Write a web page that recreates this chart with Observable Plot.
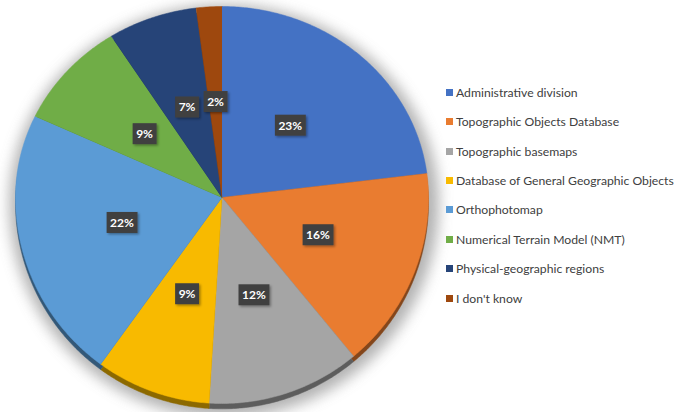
<!DOCTYPE html>
<html><head><meta charset="utf-8">
<script src="https://cdn.jsdelivr.net/npm/d3@7"></script>
<script src="https://cdn.jsdelivr.net/npm/@observablehq/plot@0.6"></script>
<style>
body{margin:0;background:#fff;}
#wrap{position:relative;width:677px;height:412px;overflow:hidden;}
#legend{position:absolute;left:446px;top:77.5px;font-family:Lato,"Noto Sans",sans-serif;font-size:12.2px;color:#404040;}
.row{height:29.43px;display:flex;align-items:center;white-space:nowrap;}
.sw{width:7px;height:7px;margin-right:3px;flex:none;}
</style></head>
<body><div id="wrap"><div id="chart"></div><div id="legend"></div></div>
<script>
const categories = ["Administrative division","Topographic Objects Database","Topographic basemaps","Database of General Geographic Objects","Orthophotomap","Numerical Terrain Model (NMT)","Physical-geographic regions","I don't know"];
const values = [23,16,12,9,22,9,7,2];
const colors = ["#4472C4","#E97C30","#A5A5A5","#F8BA00","#5B9BD5","#70AD47","#264478","#9E480E"];
const labels = values.map(v => v + "%");

const K = 206/191;
function pt(a, r){ const c = Math.cos(a); return {x: r*Math.sin(a), y: r*c*(c >= 0 ? 1 : K)}; }
const arcs = d3.pie().sort(null).value(d => d)(values);

function slicePoints(dy){
  const out = [];
  arcs.forEach((p, i) => {
    const c0 = pt(0, 0); out.push({key: i, x: c0.x, y: c0.y + dy});
    const n = Math.max(2, Math.ceil((p.endAngle - p.startAngle) / 0.01));
    for (let j = 0; j <= n; j++) {
      const a = p.startAngle + (p.endAngle - p.startAngle) * j / n;
      const q = pt(a, 1); out.push({key: i, x: q.x, y: q.y + dy});
    }
  });
  return out;
}
const topFace = slicePoints(0).map(d => ({...d, c: colors[d.key]}));
const rimFace = slicePoints(-0.028).map(d => ({...d, c: d3.color(colors[d.key]).darker(1.6).formatHex()}));
const shadowPts = d3.range(0, 2*Math.PI + 0.01, 0.02).map(a => { const q = pt(a, 1.04); return {x: q.x + 0.01, y: q.y - 0.03}; });
const labelPts = arcs.map((p, i) => { const q = pt((p.startAngle + p.endAngle)/2, 0.5); return {x: q.x, y: q.y, text: labels[i]}; });

const chart = Plot.plot({
  width: 677, height: 412, margin: 0,
  x: {domain: [-1, 1], range: [15, 428], axis: null},
  y: {domain: [-K, 1], range: [403, 6], axis: null},
  color: {type: "identity"},
  marks: [
    Plot.line(shadowPts, {x: "x", y: "y", fill: "#9a9a9a", stroke: "none"}),
    Plot.line(rimFace, {x: "x", y: "y", z: "key", fill: "c", stroke: "c", strokeWidth: 0.5}),
    Plot.line(topFace, {x: "x", y: "y", z: "key", fill: "c", stroke: "c", strokeWidth: 0.5}),
    Plot.text(labelPts, {x: "x", y: "y", text: "text", fill: "white", fontWeight: "bold", fontSize: 12, fontFamily: "Lato, 'Noto Sans', sans-serif"})
  ]
});
document.getElementById("chart").appendChild(chart);

const svg = d3.select(chart);
const defs = svg.insert("defs", ":first-child");
const f = defs.append("filter").attr("id", "blur").attr("x", "-20%").attr("y", "-20%").attr("width", "140%").attr("height", "140%");
f.append("feGaussianBlur").attr("stdDeviation", 7);
const lines = chart.querySelectorAll('g[aria-label="line"]');
d3.select(lines[0]).attr("filter", "url(#blur)").attr("opacity", 0.75);

const bf = defs.append("filter").attr("id", "bshadow").attr("x", "-30%").attr("y", "-30%").attr("width", "160%").attr("height", "160%");
bf.append("feDropShadow").attr("dx", 1.5).attr("dy", 1.5).attr("stdDeviation", 1.2).attr("flood-color", "#000").attr("flood-opacity", 0.35);
chart.querySelectorAll('g[aria-label="text"] text').forEach(t => {
  const b = t.getBBox();
  const r = document.createElementNS("http://www.w3.org/2000/svg", "rect");
  r.setAttribute("x", b.x - 3.5); r.setAttribute("y", b.y - 3);
  r.setAttribute("width", b.width + 7); r.setAttribute("height", b.height + 6);
  r.setAttribute("fill", "#404040"); r.setAttribute("filter", "url(#bshadow)");
  if (t.getAttribute("transform")) r.setAttribute("transform", t.getAttribute("transform"));
  t.parentNode.insertBefore(r, t);
});

const lg = d3.select("#legend");
categories.forEach((c, i) => {
  const row = lg.append("div").attr("class", "row");
  row.append("div").attr("class", "sw").style("background", colors[i]);
  row.append("span").text(c);
});
</script>
</body></html>
